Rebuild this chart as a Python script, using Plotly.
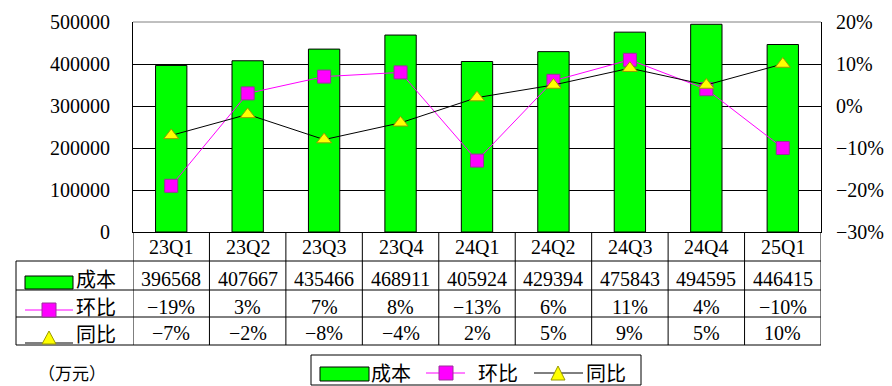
import plotly.graph_objects as go

quarters = ["23Q1", "23Q2", "23Q3", "23Q4", "24Q1", "24Q2", "24Q3", "24Q4", "25Q1"]
cost = [396568, 407667, 435466, 468911, 405924, 429394, 475843, 494595, 446415]
qoq = [-19, 3, 7, 8, -13, 6, 11, 4, -10]   # 环比 (%)
yoy = [-7, -2, -8, -4, 2, 5, 9, 5, 10]     # 同比 (%)
left_ticks = [0, 100000, 200000, 300000, 400000, 500000]
right_ticks = [-30, -20, -10, 0, 10, 20]
series_names = ["成本", "环比", "同比"]
unit_label = "（万元）"

W, H = 892, 386
PL, PR, PT, PB = 125, 813, 14, 224
FONT = "Liberation Serif, Noto Sans CJK SC, serif"
GREEN = "#00ff00"
MAG = "#ff00ff"
YEL = "#ffff00"


def px(x):
    return (x - PL) / (PR - PL)


def py(y):
    return (PB - y) / (PB - PT)


def pct(v):
    return ("−" if v < 0 else "") + f"{abs(v)}%"


fig = go.Figure()
fig.add_trace(go.Bar(x=quarters, y=cost, name=series_names[0], marker=dict(color=GREEN, line=dict(color="black", width=1)), yaxis="y"))
fig.add_trace(go.Scatter(x=quarters, y=[v / 100 for v in qoq], name=series_names[1], mode="lines+markers",
                         line=dict(color=MAG, width=1),
                         marker=dict(symbol="square", size=13, color=MAG, line=dict(color="#993399", width=1)),
                         yaxis="y2"))
fig.add_trace(go.Scatter(x=quarters, y=[v / 100 for v in yoy], name=series_names[2], mode="lines+markers",
                         line=dict(color="black", width=1),
                         marker=dict(symbol="triangle-up", size=13, color=YEL, line=dict(color="#999900", width=1)),
                         yaxis="y2"))

shapes = []
annotations = []


def line(x0, y0, x1, y1, color="black", width=1, xref="paper"):
    shapes.append(dict(type="line", xref=xref, yref="paper", x0=x0, y0=y0, x1=x1, y1=y1,
                       line=dict(color=color, width=width), layer="above"))


# top border grey
line(0, 1, 1, 1, color="#808080")
# table borders
for i in range(len(quarters) + 1):
    line(i - 0.5, py(224), i - 0.5, py(337), xref="x")
for yy in [253, 282, 309, 337]:
    line(px(8), py(yy), 1, py(yy))
line(px(8), py(253), px(8), py(337))

# table text
for i, q in enumerate(quarters):
    annotations.append(dict(x=q, xref="x", y=py(239), yref="paper", text=q, showarrow=False, yanchor="middle"))
    annotations.append(dict(x=q, xref="x", y=py(271), yref="paper", text=str(cost[i]), showarrow=False, yanchor="middle"))
    annotations.append(dict(x=q, xref="x", y=py(299), yref="paper", text=pct(qoq[i]), showarrow=False, yanchor="middle"))
    annotations.append(dict(x=q, xref="x", y=py(325), yref="paper", text=pct(yoy[i]), showarrow=False, yanchor="middle"))

# row keys
shapes.append(dict(type="rect", xref="paper", yref="paper", x0=px(17), x1=px(65), y0=py(281), y1=py(268),
                   fillcolor=GREEN, line=dict(color="black", width=1), layer="above"))
line(px(17), py(302), px(65), py(302), color=MAG)
shapes.append(dict(type="rect", xref="paper", yref="paper", x0=px(34), x1=px(48), y0=py(309), y1=py(295),
                   fillcolor=MAG, line=dict(color="#993399", width=1), layer="above"))
line(px(17), py(335), px(65), py(335))
shapes.append(dict(type="path", xref="paper", yref="paper",
                   path=f"M {px(34)} {py(336)} L {px(48)} {py(336)} L {px(41)} {py(323)} Z",
                   fillcolor=YEL, line=dict(color="#999900", width=1), layer="above"))
for yy, name in zip([272, 300, 327], series_names):
    annotations.append(dict(x=px(66), xref="paper", y=py(yy), yref="paper", text=name, showarrow=False,
                            xanchor="left", yanchor="middle"))

# unit label
annotations.append(dict(x=px(28), xref="paper", y=py(366), yref="paper", text=unit_label, showarrow=False,
                        xanchor="left", yanchor="middle", font=dict(size=17)))

# bottom legend
shapes.append(dict(type="rect", xref="paper", yref="paper", x0=px(303), x1=px(633), y0=py(377), y1=py(347),
                   line=dict(color="black", width=1), fillcolor="rgba(0,0,0,0)", layer="above"))
shapes.append(dict(type="rect", xref="paper", yref="paper", x0=px(312), x1=px(361), y0=py(373), y1=py(359),
                   fillcolor=GREEN, line=dict(color="black", width=1), layer="above"))
line(px(418), py(365), px(457), py(365), color=MAG)
shapes.append(dict(type="rect", xref="paper", yref="paper", x0=px(431), x1=px(445), y0=py(372), y1=py(358),
                   fillcolor=MAG, line=dict(color="#993399", width=1), layer="above"))
line(px(526), py(365), px(575), py(365))
shapes.append(dict(type="path", xref="paper", yref="paper",
                   path=f"M {px(543)} {py(372)} L {px(557)} {py(372)} L {px(550)} {py(358)} Z",
                   fillcolor=YEL, line=dict(color="#999900", width=1), layer="above"))
for xx, name in zip([361, 468, 576], series_names):
    annotations.append(dict(x=px(xx), xref="paper", y=py(366), yref="paper", text=name, showarrow=False,
                            xanchor="left", yanchor="middle"))

fig.update_layout(
    width=W, height=H,
    margin=dict(l=PL, r=W - PR, t=PT, b=H - PB, autoexpand=False),
    paper_bgcolor="white", plot_bgcolor="white",
    font=dict(family=FONT, size=20, color="black"),
    showlegend=False,
    bargap=0.59,
    xaxis=dict(type="category", showticklabels=False, showgrid=False, showline=True, linecolor="black",
               linewidth=1, ticks="", range=[-0.5, len(quarters) - 0.5]),
    yaxis=dict(range=[0, 500000], tickvals=left_ticks, ticktext=[str(v) for v in left_ticks],
               showgrid=True, gridcolor="black", gridwidth=1, zeroline=False,
               showline=True, linecolor="black", linewidth=1, ticks="", ticklabelstandoff=18),
    yaxis2=dict(range=[-0.3, 0.2], overlaying="y", side="right", tickvals=[v / 100 for v in right_ticks],
                ticktext=[pct(v) for v in right_ticks], showgrid=False, zeroline=False,
                showline=True, linecolor="black", linewidth=1, ticks="", ticklabelstandoff=10),
    shapes=shapes, annotations=annotations,
)

fig.write_html("out.html")
